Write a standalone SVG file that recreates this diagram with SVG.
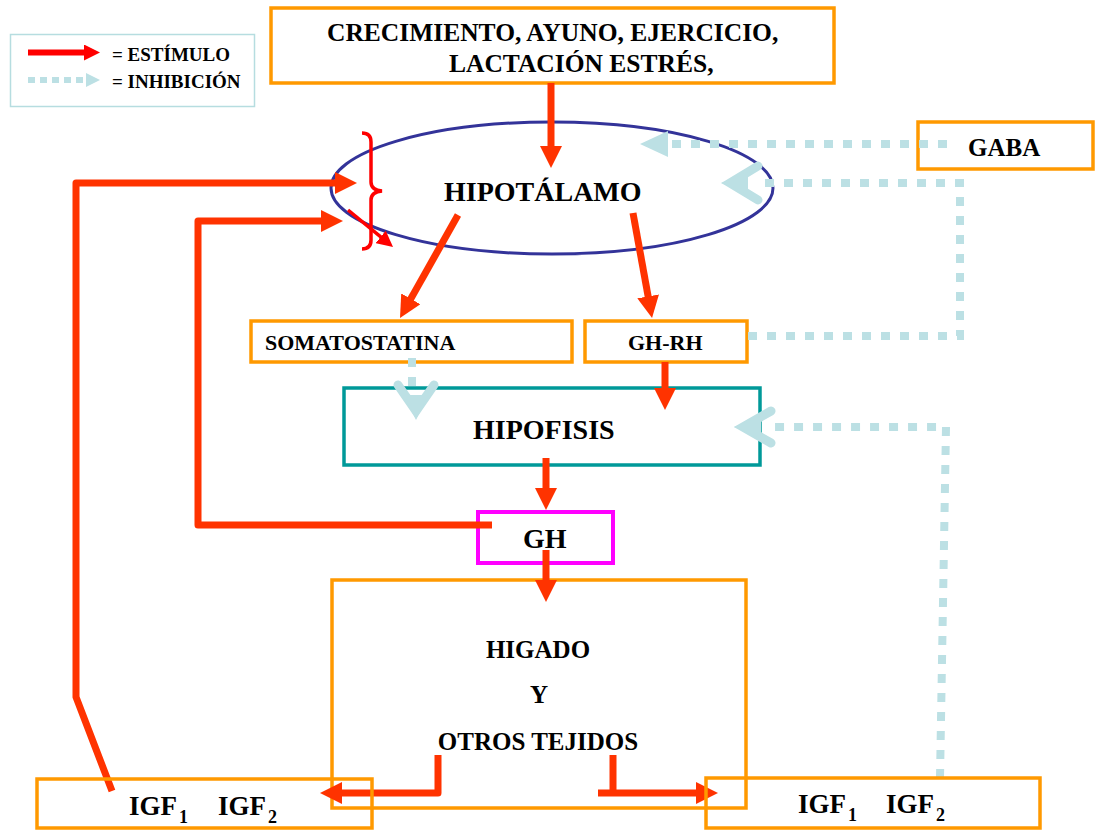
<svg xmlns="http://www.w3.org/2000/svg" width="1095" height="832" viewBox="0 0 1095 832">
<style>
.t{font-family:"Liberation Serif","Times New Roman",serif;font-weight:bold;fill:#000}
.box{fill:none;stroke:#ff9900;stroke-width:3.5}
.red{fill:none;stroke:#ff3300;stroke-width:7;stroke-linejoin:round}
.thin{fill:none;stroke:#ff0000;stroke-width:3.5}
.dot{fill:none;stroke:#bce0e4;stroke-width:8;stroke-dasharray:9 10}
.chev{fill:none;stroke:#bce0e4;stroke-width:9;stroke-linecap:round;stroke-linejoin:miter;stroke-miterlimit:6}
.tri{fill:#bce0e4}
</style>
<defs>
<marker id="ah" viewBox="0 0 22 22" markerWidth="22" markerHeight="22" refX="10" refY="11" orient="auto" markerUnits="userSpaceOnUse"><path d="M0,0 L22,11 L0,22 z" fill="#ff3300"/></marker>
<marker id="ahs" viewBox="0 0 16 16" markerWidth="16" markerHeight="16" refX="6" refY="8" orient="auto" markerUnits="userSpaceOnUse"><path d="M0,0 L16,8 L0,16 z" fill="#ff0000"/></marker>
</defs>
<rect width="1095" height="832" fill="#fff"/>

<g id="legend">
<rect x="10.5" y="34.5" width="244" height="72" fill="none" stroke="#b6dde0" stroke-width="1.5"/>
<path d="M28,52.5 L90,52.5" fill="none" stroke="#ff0000" stroke-width="6" marker-end="url(#ahs)"/>
<path d="M28,80 L84,80" fill="none" stroke="#bce0e4" stroke-width="6" stroke-dasharray="7 5"/>
<polygon class="tri" points="86,73 100,80 86,87"/>
<text class="t" x="112" y="61" font-size="19">= ESTÍMULO</text>
<text class="t" x="112" y="88" font-size="19">= INHIBICIÓN</text>
</g>

<g id="estimulos">
<rect class="box" x="271" y="8" width="563" height="75"/>
<text class="t" x="327" y="41" font-size="25.5">CRECIMIENTO, AYUNO, EJERCICIO,</text>
<text class="t" x="449" y="72" font-size="25.5">LACTACIÓN ESTRÉS,</text>
</g>

<g id="hipotalamo">
<ellipse cx="552" cy="188" rx="221" ry="66" fill="none" stroke="#333399" stroke-width="3"/>
<text class="t" x="444" y="201" font-size="28">HIPOTÁLAMO</text>
<path d="M362,133 Q371,133 371,142 L371,182 Q371,190 382,191 Q371,192 371,200 L371,240 Q371,249 362,249" class="thin"/>
</g>

<g id="gaba">
<rect class="box" x="918" y="122" width="175" height="47"/>
<text class="t" x="968" y="156" font-size="25">GABA</text>
</g>

<g id="somatostatina">
<rect class="box" x="251" y="321" width="321" height="41"/>
<text class="t" x="265" y="350" font-size="22">SOMATOSTATINA</text>
</g>

<g id="ghrh">
<rect class="box" x="585" y="321" width="162" height="41"/>
<text class="t" x="628" y="350" font-size="22">GH-RH</text>
</g>

<g id="hipofisis">
<rect x="344" y="388" width="416" height="77" fill="none" stroke="#009999" stroke-width="3.5"/>
<text class="t" x="473" y="439" font-size="28">HIPOFISIS</text>
</g>

<g id="gh">
<rect x="478" y="512" width="135" height="51" fill="none" stroke="#ff00ff" stroke-width="4"/>
<text class="t" x="523" y="548" font-size="28">GH</text>
</g>

<g id="higado">
<rect class="box" x="332" y="580" width="414" height="228"/>
<text class="t" x="538" y="658" font-size="25" text-anchor="middle">HIGADO</text>
<text class="t" x="539" y="703" font-size="25" text-anchor="middle">Y</text>
<text class="t" x="538" y="750" font-size="25" text-anchor="middle">OTROS TEJIDOS</text>
</g>

<g id="connectors">
<path class="red" d="M551,83 L551,156" marker-end="url(#ah)"/>
<path class="red" d="M112,791 L76,697 L76,183 L345,183" marker-end="url(#ah)"/>
<path class="red" d="M492,525 L198,525 L198,221 L331,221" marker-end="url(#ah)"/>
<path class="thin" d="M348,210 L385.3,240.7" marker-end="url(#ahs)"/>
<path class="red" d="M458,215 L405.9,307.5" marker-end="url(#ah)"/>
<path class="red" d="M633,213 L649.9,306.2" marker-end="url(#ah)"/>
<path class="red" d="M665,362 L665,398" marker-end="url(#ah)"/>
<path class="red" d="M546,458 L546,498" marker-end="url(#ah)"/>
<path class="red" d="M546,550 L546,590" marker-end="url(#ah)"/>
<path class="red" d="M438,755 L438,793 L332,793" marker-end="url(#ah)"/>
<path class="red" d="M613,755 L613,793 M598,793 L706,793" marker-end="url(#ah)"/>

<path class="dot" d="M947,144 L668,144"/>
<polygon class="tri" points="640,144 668,131 668,157"/>
<path class="dot" d="M748,336 L960,336 L960,183 L762,183"/>
<path class="chev" d="M758,166 L730,183 L758,200"/>
<polygon class="tri" points="721,183 748,172 748,194"/>
<path class="dot" d="M940,778 L946,427 L767,427"/>
<path class="chev" d="M771,411 L743,427 L771,443"/>
<polygon class="tri" points="734,427 761,416 761,438"/>
<path class="dot" d="M412,358 L412,388"/>
<path class="chev" d="M398,385 L416,411 L434,385"/>
<polygon class="tri" points="416,420 404,395 428,395"/>
</g>

<g id="igf-izq">
<rect class="box" x="37" y="779" width="335" height="49" stroke-width="4"/>
<text class="t" x="129" y="815" font-size="27">IGF<tspan font-size="18" dy="8" dx="2">1</tspan><tspan x="218" dy="-8">IGF</tspan><tspan font-size="18" dy="8" dx="2">2</tspan></text>
</g>

<g id="igf-der">
<rect class="box" x="706" y="778" width="334" height="50" stroke-width="4"/>
<text class="t" x="798" y="813" font-size="27">IGF<tspan font-size="18" dy="8" dx="2">1</tspan><tspan x="886" dy="-8">IGF</tspan><tspan font-size="18" dy="8" dx="2">2</tspan></text>
</g>
</svg>
